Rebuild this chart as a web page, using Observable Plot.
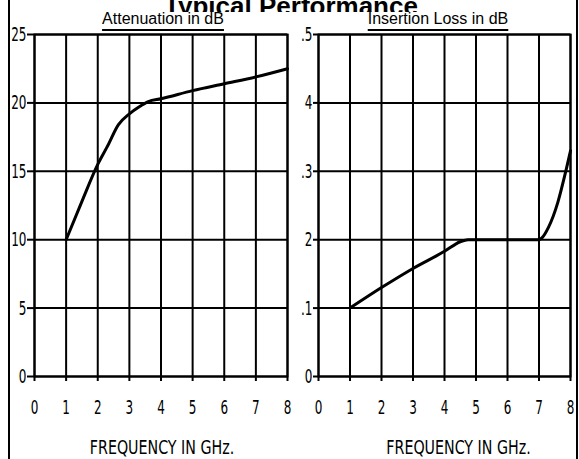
<!DOCTYPE html>
<html>
<head>
<meta charset="utf-8">
<script src="https://cdn.jsdelivr.net/npm/d3@7"></script>
<script src="https://cdn.jsdelivr.net/npm/@observablehq/plot@0.6"></script>
<style>
  html, body { margin: 0; padding: 0; background: white; }
  #wrap { position: relative; width: 579px; height: 459px; overflow: hidden; background: white; }
  .edge { position: absolute; top: 0; width: 2px; height: 459px; background: black; }
  #titleclip { position: absolute; left: 0; top: 0; width: 579px; height: 12px; overflow: hidden; }
  #title { position: absolute; left: 0; width: 582px; top: -9px; line-height: 26px; text-align: center;
           font: bold 26px "Liberation Sans", Arial, sans-serif; color: black; white-space: nowrap; }
  .sub { position: absolute; top: 10px; line-height: 14px; font: 16px "Liberation Sans", Arial, sans-serif; color: black;
         text-decoration: underline; text-decoration-thickness: 2px; text-underline-offset: 5px;
         transform: translateX(-50%); white-space: nowrap; }
  .plot { position: absolute; top: 0; }
</style>
</head>
<body>
<div id="wrap">
  <div class="edge" style="left:8px"></div>
  <div class="edge" style="left:576px"></div>
  <div id="titleclip"><div id="title">Typical Performance</div></div>
  <div class="sub" style="left:163px">Attenuation in dB</div>
  <div class="sub" style="left:438px">Insertion Loss in dB</div>
</div>
<script>
// ---- data ----
const xTicks = [0, 1, 2, 3, 4, 5, 6, 7, 8];
const xLabel = "FREQUENCY IN GHz.";

const attenTicks = [0, 5, 10, 15, 20, 25];
const attenTickLabels = ["0", "5", "10", "15", "20", "25"];
const attenFreq = [1, 1.5, 2, 2.3, 2.65, 3, 3.3, 3.6, 4, 5, 6, 7, 8];
const attenDb   = [10, 12.8, 15.5, 16.8, 18.4, 19.2, 19.7, 20.1, 20.3, 20.9, 21.4, 21.9, 22.5];

const lossTicks = [0, 0.1, 0.2, 0.3, 0.4, 0.5];
const lossTickLabels = ["0", ".1", "2", ".3", "4", ".5"];
const lossFreq = [1, 2, 3, 4, 4.5, 4.75, 5, 6, 7, 7.1, 7.3, 7.6, 7.85, 8];
const lossDb   = [0.1, 0.13, 0.158, 0.183, 0.197, 0.2, 0.2, 0.2, 0.2, 0.203, 0.218, 0.255, 0.3, 0.33];

const tickFont = "'DejaVu Sans', sans-serif";

function squash(svg, selector, k) {
  svg.querySelectorAll(selector).forEach(t => {
    const tr = t.getAttribute("transform") || "";
    t.setAttribute("transform", tr + ` scale(${k},1)`);
  });
}

function panel({width, marginLeft, marginRight, yDomain, yTicks, yLabels, xs, ys, yTickSize, labelDx}) {
  const lab = new Map(yTicks.map((t, i) => [t, yLabels[i]]));
  const rows = xs.map((x, i) => ({x, y: ys[i]}));
  const svg = Plot.plot({
    width, height: 459,
    marginLeft, marginRight, marginTop: 34, marginBottom: 83,
    x: {domain: [0, 8]},
    y: {domain: yDomain},
    style: {fontFamily: tickFont, fontSize: "20px", color: "black", background: "transparent", overflow: "visible"},
    marks: [
      Plot.gridX(xTicks, {stroke: "black", strokeOpacity: 1, strokeWidth: 2}),
      Plot.gridY(yTicks, {stroke: "black", strokeOpacity: 1, strokeWidth: 2}),
      Plot.frame({stroke: "black", strokeWidth: 2}),
      Plot.axisY(yTicks, {tickSize: yTickSize, tickPadding: 1, strokeWidth: 2, tickFormat: d => lab.get(d), label: null, fontSize: 20}),
      Plot.axisX(xTicks, {tickSize: 5, tickPadding: 18, strokeWidth: 2, tickFormat: d => String(d), label: null, fontSize: 20}),
      Plot.text([xLabel], {frameAnchor: "bottom", dy: 77, dx: labelDx, text: d => d, fontSize: 19, fill: "black"}),
      Plot.line(rows, {x: "x", y: "y", stroke: "black", strokeWidth: 3, curve: "monotone-x"})
    ]
  });
  squash(svg, 'g[aria-label="y-axis tick label"] text', 0.6);
  squash(svg, 'g[aria-label="x-axis tick label"] text', 0.6);
  squash(svg, 'g[aria-label="text"] text', 0.75);
  return svg;
}

const left = panel({width: 300, marginLeft: 34, marginRight: 13, yDomain: [0, 25],
  yTicks: attenTicks, yLabels: attenTickLabels, xs: attenFreq, ys: attenDb, yTickSize: 7, labelDx: 1});
left.classList.add("plot"); left.style.left = "0px";

const right = panel({width: 290, marginLeft: 29, marginRight: 9, yDomain: [0, 0.5],
  yTicks: lossTicks, yLabels: lossTickLabels, xs: lossFreq, ys: lossDb, yTickSize: 5, labelDx: 14});
right.classList.add("plot"); right.style.left = "289px";

const wrap = document.getElementById("wrap");
wrap.insertBefore(left, wrap.firstChild);
wrap.insertBefore(right, wrap.firstChild);
</script>
</body>
</html>
